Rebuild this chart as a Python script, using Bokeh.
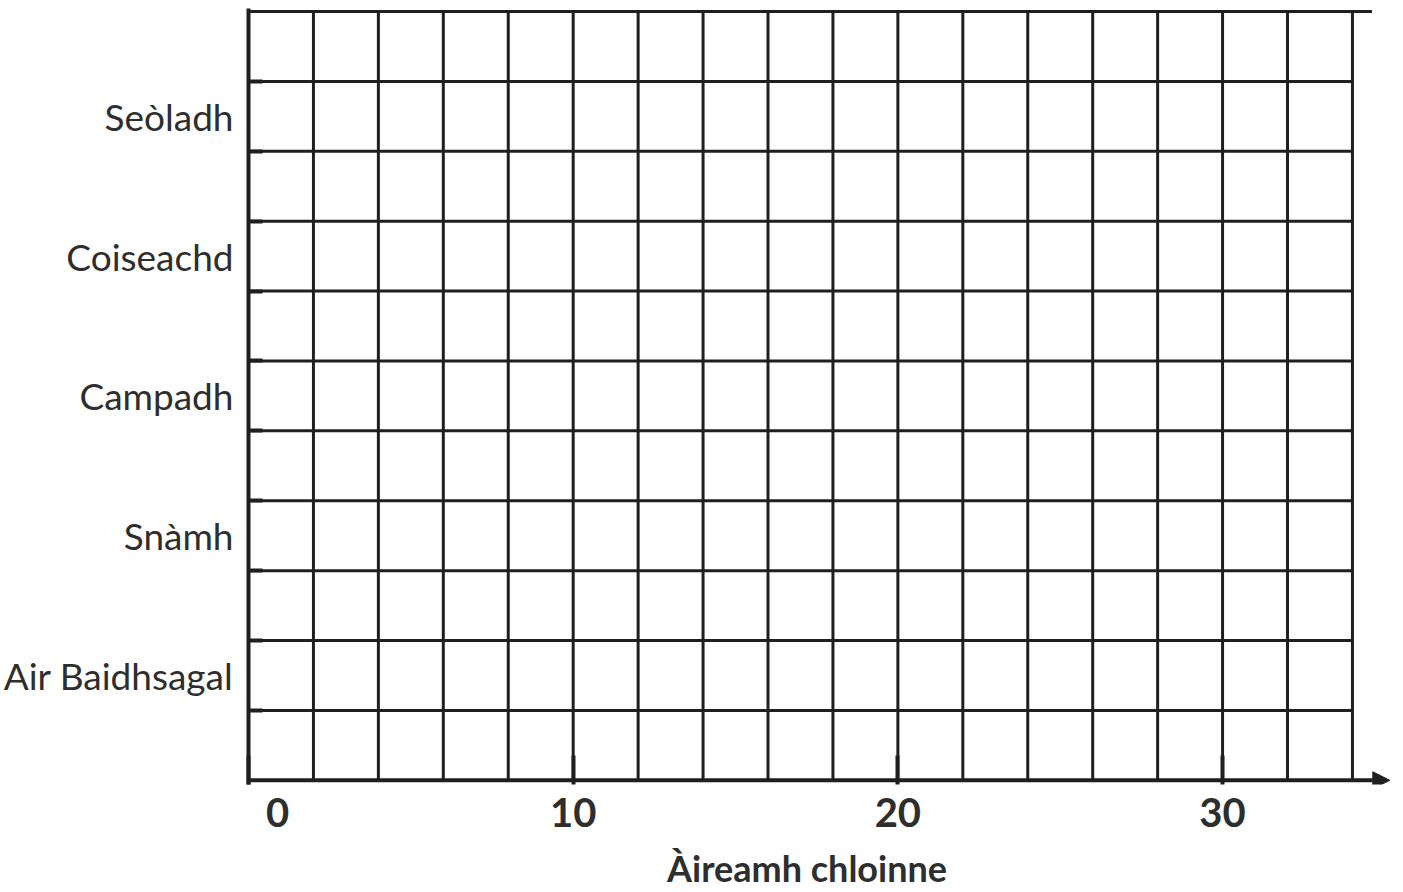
import numpy as np
from bokeh.plotting import figure
from bokeh.models import Range1d, FixedTicker, Arrow, NormalHead
from bokeh.embed import file_html
from bokeh.resources import INLINE

# ---- chart content (blank worksheet grid) ----
categories = ["Seòladh", "Coiseachd", "Campadh", "Snàmh", "Air Baidhsagal"]  # top to bottom
x_ticks = [0, 10, 20, 30]
x_tick_labels = ["0", "10", "20", "30"]
x_title = "Àireamh chloinne"
x_grid_step = 2
x_max = 34
rows_per_category = 2
n_rows = 11

ink = "#1f1f1f"
text_color = "#2e2e2e"
NBSP = "\u00a0"

p = figure(width=1400, height=892,
           x_range=Range1d(0, 35.48), y_range=Range1d(-0.06, 11.043),
           output_backend="svg", toolbar_location=None,
           min_border_left=247, min_border_right=0,
           min_border_top=8, min_border_bottom=107)
p.outline_line_color = None
p.xgrid.visible = False
p.ygrid.visible = False
p.background_fill_color = "white"
p.border_fill_color = "white"

# grid lines
xs = np.arange(x_grid_step, x_max + x_grid_step, x_grid_step)
p.segment(x0=xs, y0=np.zeros_like(xs), x1=xs, y1=np.full_like(xs, n_rows),
          line_color=ink, line_width=3)
ys = np.arange(1, n_rows)
p.segment(x0=np.zeros_like(ys), y0=ys, x1=np.full_like(ys, x_max), y1=ys,
          line_color=ink, line_width=3)
# top border line (extends a little beyond the last column)
p.segment(x0=[0], y0=[n_rows], x1=[x_max + 0.6], y1=[n_rows], line_color=ink, line_width=3)

# y axis: category labels centred on their two-row bands, stubs at row boundaries
cat_pos = [rows_per_category * i + 1.5 for i in range(len(categories))]
p.yaxis.ticker = FixedTicker(ticks=cat_pos, minor_ticks=list(range(1, n_rows)))
p.yaxis.major_label_overrides = {pos: name for pos, name in zip(cat_pos, reversed(categories))}
p.yaxis.axis_line_width = 4
p.yaxis.axis_line_color = ink
p.yaxis.major_tick_line_color = None
p.yaxis.major_tick_in = 0
p.yaxis.major_tick_out = 0
p.yaxis.minor_tick_in = 14
p.yaxis.minor_tick_out = 0
p.yaxis.minor_tick_line_width = 4
p.yaxis.minor_tick_line_color = ink
p.yaxis.major_label_standoff = 15
p.yaxis.major_label_text_font = "Lato"
p.yaxis.major_label_text_font_size = "37px"
p.yaxis.major_label_text_color = text_color

# x axis: tick stubs + bold labels (line drawn as arrow)
p.xaxis.ticker = FixedTicker(ticks=x_ticks)
p.xaxis.major_label_overrides = {t: (NBSP * 6 + lab if t == 0 else lab)
                                 for t, lab in zip(x_ticks, x_tick_labels)}
p.xaxis.axis_line_color = None
p.xaxis.major_tick_in = 29
p.xaxis.major_tick_out = 0
p.xaxis.major_tick_line_width = 4
p.xaxis.major_tick_line_color = ink
p.xaxis.minor_tick_line_color = None
p.xaxis.major_label_standoff = 3
p.xaxis.major_label_text_font = "Lato"
p.xaxis.major_label_text_font_style = "bold"
p.xaxis.major_label_text_font_size = "40px"
p.xaxis.major_label_text_color = text_color
p.xaxis.axis_label = x_title + NBSP * 4
p.xaxis.axis_label_standoff = 7
p.xaxis.axis_label_text_font = "Lato"
p.xaxis.axis_label_text_font_style = "bold"
p.xaxis.axis_label_text_font_size = "36px"
p.xaxis.axis_label_text_color = text_color

p.add_layout(Arrow(end=NormalHead(size=17, fill_color=ink, line_color=ink),
                   x_start=0, y_start=0, x_end=x_max + 1.15, y_end=0,
                   line_color=ink, line_width=4))

open("out.html", "w").write(file_html(p, INLINE))
